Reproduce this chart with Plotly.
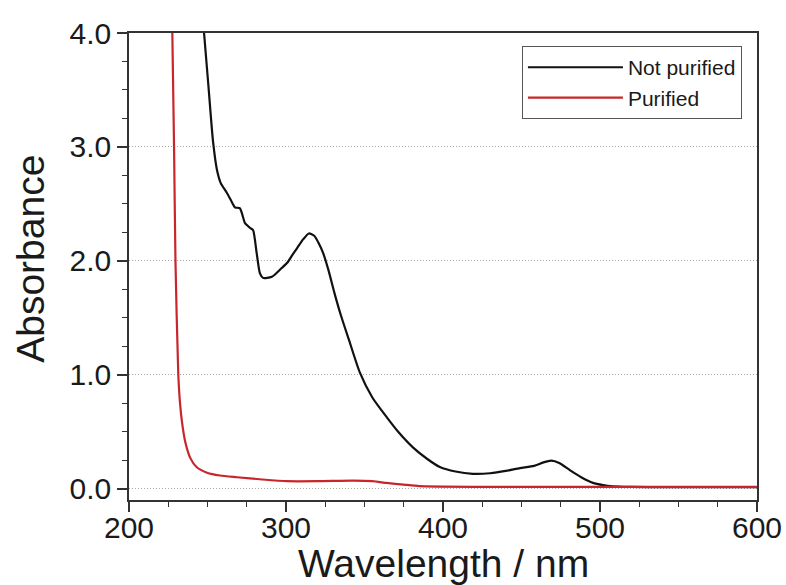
import plotly.graph_objects as go

# Not purified (black)
wl_np = [247.8, 250.5, 253.5, 256, 258.5, 262.2, 265, 267.5, 270.7, 273.9, 277, 279,
         281.3, 283.4, 285.4, 288, 291, 293, 296, 300.6, 304, 307, 311, 314.6, 318, 321,
         323.6, 327, 331, 335, 340, 347, 355, 364, 372, 381, 390, 398, 408, 419,
         430, 440, 449, 458, 464, 469, 474, 481, 488, 495.5, 502, 508, 520, 540, 570, 600]
abs_np = [4.00, 3.55, 3.05, 2.80, 2.68, 2.60, 2.53, 2.47, 2.46, 2.33, 2.29, 2.27,
          2.07, 1.89, 1.85, 1.85, 1.86, 1.88, 1.92, 1.98, 2.05, 2.11, 2.19, 2.24, 2.22, 2.15,
          2.07, 1.92, 1.71, 1.52, 1.31, 1.02, 0.80, 0.63, 0.49, 0.36, 0.26, 0.19,
          0.15, 0.13, 0.135, 0.155, 0.18, 0.20, 0.23, 0.245, 0.225, 0.16, 0.10, 0.05, 0.03,
          0.02, 0.015, 0.012, 0.012, 0.012]

# Purified (red)
wl_p = [227.6, 228.7, 229.6, 231.4, 232.5, 233.8, 236, 239, 243, 249.7, 258, 268.8, 285,
        300.6, 320, 342.7, 355, 364, 375, 385, 420, 500, 600]
abs_p = [4.00, 3.00, 2.00, 1.00, 0.75, 0.58, 0.40, 0.27, 0.19, 0.14, 0.115, 0.10, 0.08,
         0.065, 0.065, 0.07, 0.065, 0.05, 0.035, 0.022, 0.016, 0.016, 0.016]

x_range = [200, 600]
y_range = [-0.1, 4.0]
x_ticks = [200, 300, 400, 500, 600]
y_ticks = [0.0, 1.0, 2.0, 3.0, 4.0]
y_ticklabels = ["0.0", "1.0", "2.0", "3.0", "4.0"]
x_title = "Wavelength / nm"
y_title = "Absorbance"

fig = go.Figure()
fig.add_trace(go.Scatter(x=wl_np, y=abs_np, mode="lines", name="Not purified",
                         line=dict(color="#111111", width=2.2, shape="spline", smoothing=0.6)))
fig.add_trace(go.Scatter(x=wl_p, y=abs_p, mode="lines", name="Purified",
                         line=dict(color="#c8262a", width=2.2, shape="spline", smoothing=0.6)))

font_family = "Liberation Sans, Arial, sans-serif"

fig.update_layout(
    width=786, height=585,
    margin=dict(l=129, r=29, t=33, b=85),
    paper_bgcolor="white", plot_bgcolor="white",
    font=dict(family=font_family, color="#1a1a1a"),
    showlegend=True,
    legend=dict(
        x=0.976, y=0.972, xanchor="right", yanchor="top",
        bgcolor="white", bordercolor="#555555", borderwidth=1,
        font=dict(size=21, family=font_family, color="#1a1a1a"),
        itemwidth=95, tracegroupgap=0,
    ),
    xaxis=dict(
        range=x_range, tickvals=x_ticks, ticktext=[str(v) for v in x_ticks],
        showline=True, linecolor="#333333", linewidth=1.5, mirror=True,
        ticks="outside", ticklen=10, tickwidth=1.5, tickcolor="#333333",
        tickfont=dict(size=30), ticklabelstandoff=-10,
        showgrid=False, zeroline=False, automargin=False,
        minor=dict(dtick=25, ticks="outside", ticklen=5, tickwidth=1.2, tickcolor="#333333",
                   showgrid=False),
    ),
    yaxis=dict(
        range=y_range, tickvals=y_ticks, ticktext=y_ticklabels,
        showline=True, linecolor="#333333", linewidth=1.5, mirror=True,
        ticks="outside", ticklen=10, tickwidth=1.5, tickcolor="#333333",
        tickfont=dict(size=30),
        showgrid=True, gridcolor="#a8a8a8", gridwidth=1, griddash="1px,2px",
        zeroline=False, automargin=False,
        minor=dict(dtick=0.25, tick0=0, ticks="outside", ticklen=5, tickwidth=1.2,
                   tickcolor="#333333", showgrid=False),
    ),
    annotations=[
        dict(text=x_title, xref="paper", yref="paper", x=0.5, y=-0.137,
             xanchor="center", yanchor="middle", showarrow=False,
             font=dict(size=39, family=font_family, color="#1a1a1a")),
        dict(text=y_title, xref="paper", yref="paper", x=-0.158, y=0.516,
             xanchor="center", yanchor="middle", showarrow=False, textangle=-90,
             font=dict(size=39, family=font_family, color="#1a1a1a")),
    ],
)

fig.write_html("out.html")
